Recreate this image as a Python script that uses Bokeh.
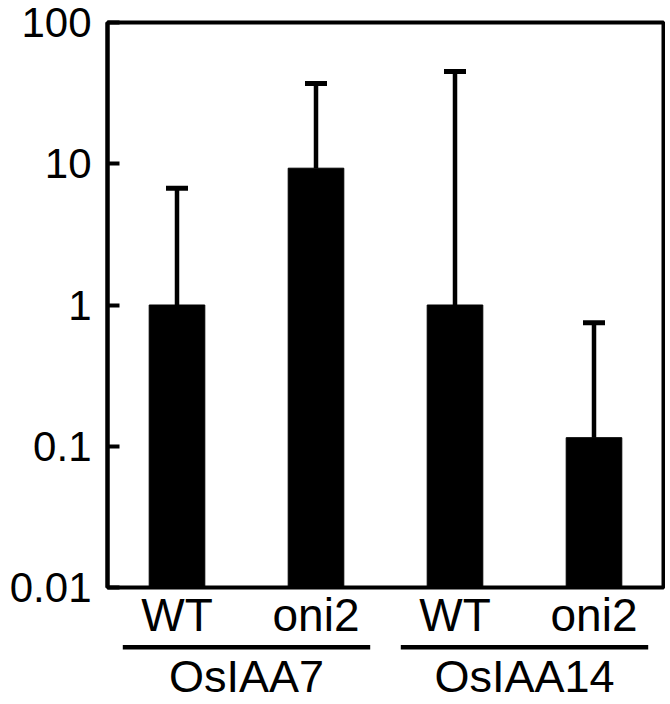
from bokeh.plotting import figure
from bokeh.models import (Range1d, FixedTicker, CustomJSTickFormatter, Whisker,
                          TeeHead, ColumnDataSource)
from bokeh.layouts import column
from bokeh.embed import file_html
from bokeh.resources import INLINE

# ---- data ----
genes = ["OsIAA7", "OsIAA14"]
genotypes = ["WT", "oni2", "WT", "oni2"]
rel_expr = [1.0, 9.3, 1.0, 0.115]        # bar heights (relative expression)
err_upper = [6.7, 37.0, 45.0, 0.75]      # upper ends of error bars
y_ticks = [0.01, 0.1, 1, 10, 100]
y_tick_labels = ["0.01", "0.1", "1", "10", "100"]

FONT = "Liberation Sans"
xs = [i + 0.5 for i in range(len(genotypes))]
group_centers = [1.0, 3.0]

src = ColumnDataSource(dict(x=xs, top=rel_expr, upper=err_upper,
                            bottom=[y_ticks[0]] * len(xs)))


def index_formatter(ticks, labels):
    return CustomJSTickFormatter(
        args=dict(vals=ticks, labs=labels),
        code="for (let i = 0; i < vals.length; i++) { if (Math.abs(vals[i] - tick) < 1e-6) return labs[i]; } return '';")


x_range = Range1d(0, 4)
p = figure(frame_width=556, frame_height=565, x_range=x_range,
           y_range=Range1d(y_ticks[0], y_ticks[-1]), y_axis_type="log",
           output_backend="svg", toolbar_location=None,
           min_border_left=107, min_border_right=2, min_border_top=22,
           min_border_bottom=50)
p.xgrid.visible = False
p.ygrid.visible = False
p.outline_line_color = "black"
p.outline_line_width = 4
p.background_fill_color = "white"
p.border_fill_color = "white"

yax = p.yaxis[0]
yax.ticker = FixedTicker(ticks=y_ticks)
yax.formatter = CustomJSTickFormatter(
    args=dict(vals=y_ticks, labs=y_tick_labels),
    code="for (let i = 0; i < vals.length; i++) { if (Math.abs(Math.log10(vals[i]) - Math.log10(tick)) < 1e-6) return labs[i]; } return '';")
yax.major_tick_in = 12
yax.major_tick_out = 0
yax.minor_tick_line_color = None
yax.major_tick_line_width = 4
yax.axis_line_width = 4
yax.axis_line_color = "black"
yax.major_tick_line_color = "black"
yax.major_label_text_font = FONT
yax.major_label_text_font_size = "42px"
yax.major_label_text_color = "black"
yax.major_label_standoff = 16

xax = p.xaxis[0]
xax.ticker = FixedTicker(ticks=xs)
xax.formatter = index_formatter(xs, genotypes)
xax.axis_line_color = None
xax.major_tick_line_color = None
xax.minor_tick_line_color = None
xax.major_tick_in = 0
xax.major_tick_out = 0
xax.major_label_standoff = 1
xax.major_label_text_font = FONT
xax.major_label_text_font_size = "46px"
xax.major_label_text_color = "black"

p.vbar(x="x", top="top", bottom="bottom", width=0.4, source=src,
       fill_color="black", line_color="black")

wh = Whisker(base="x", lower="top", upper="upper", source=src,
             line_width=4.5, line_color="black",
             lower_head=None,
             upper_head=TeeHead(size=22, line_width=5, line_color="black"))
p.add_layout(wh)

# ---- gene group panel below the plot ----
q = figure(frame_width=556, frame_height=6, x_range=x_range,
           y_range=Range1d(0, 6),
           output_backend="svg", toolbar_location=None,
           min_border_left=107, min_border_right=2, min_border_top=0,
           min_border_bottom=0)
q.yaxis.visible = False
q.grid.visible = False
q.outline_line_color = None
q.background_fill_color = "white"
q.border_fill_color = "white"

gax = q.xaxis[0]
gax.ticker = FixedTicker(ticks=group_centers)
gax.formatter = index_formatter(group_centers, genes)
gax.axis_line_color = None
gax.major_tick_line_color = None
gax.minor_tick_line_color = None
gax.major_tick_in = 0
gax.major_tick_out = 0
gax.major_label_standoff = 1
gax.major_label_text_font = FONT
gax.major_label_text_font_size = "45px"
gax.major_label_text_color = "black"

q.segment(x0=[c - 0.89 for c in group_centers], y0=[2] * len(genes),
          x1=[c + 0.89 for c in group_centers], y1=[2] * len(genes),
          line_width=5, line_color="black")

layout = column(p, q, spacing=0)
open("out.html", "w").write(file_html(layout, INLINE))
